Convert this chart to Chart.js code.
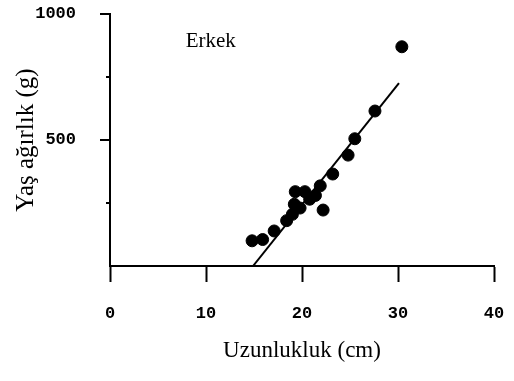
<!DOCTYPE html>
<html>
<head>
<meta charset="utf-8">
<script src="https://cdn.jsdelivr.net/npm/chart.js@4.4.1/dist/chart.umd.min.js"></script>
<style>
  html, body { margin: 0; padding: 0; background: #fff; }
  canvas { display: block; }
</style>
</head>
<body>
<canvas id="scatter" width="514" height="381"></canvas>
<script>
// Length (cm) vs wet weight (g), males
const lengthCm = [14.8, 15.9, 17.1, 18.4, 19.0, 19.3, 20.3, 19.2, 19.8, 20.8, 21.4, 21.9, 22.2, 23.2, 24.8, 25.5, 27.6, 30.4];
const weightG  = [100, 105, 139, 180, 205, 295, 295, 245, 230, 265, 280, 318, 222, 365, 440, 505, 615, 870];

// Fitted line end points
const fitX = [14.9, 30.1];
const fitY = [0, 726];

const xTicks = [0, 10, 20, 30, 40];
const yMajorTicks = [500, 1000];
const yMinorTicks = [250, 750];

const points = lengthCm.map((x, i) => ({ x, y: weightG[i] }));
const fitLine = fitX.map((x, i) => ({ x, y: fitY[i] }));

// Left-axis tick marks: long for labelled values, short in between
const yTickMarks = {
  id: 'yTickMarks',
  afterDraw(chart) {
    const { ctx, scales: { y } } = chart;
    const x0 = chart.chartArea.left;
    ctx.save();
    ctx.strokeStyle = '#000';
    ctx.lineWidth = 2;
    const mark = (v, len) => {
      const py = Math.round(y.getPixelForValue(v));
      ctx.beginPath();
      ctx.moveTo(x0 - len, py);
      ctx.lineTo(x0, py);
      ctx.stroke();
    };
    yMajorTicks.forEach(v => mark(v, 10));
    yMinorTicks.forEach(v => mark(v, 4));
    ctx.restore();
  }
};

// Group label inside the plot
const groupLabel = {
  id: 'groupLabel',
  afterDraw(chart) {
    const { ctx, scales: { x, y } } = chart;
    ctx.save();
    ctx.fillStyle = '#000';
    ctx.font = '21px "Liberation Serif", serif';
    ctx.textAlign = 'center';
    ctx.textBaseline = 'middle';
    ctx.fillText('Erkek', x.getPixelForValue(10.5), y.getPixelForValue(890));
    ctx.restore();
  }
};

const tickFont = { family: '"Liberation Mono", monospace', size: 17, weight: 'bold' };

new Chart(document.getElementById('scatter'), {
  type: 'scatter',
  data: {
    datasets: [
      {
        type: 'line',
        data: fitLine,
        borderColor: '#000',
        borderWidth: 2,
        pointRadius: 0,
        fill: false
      },
      {
        data: points,
        backgroundColor: '#000',
        borderColor: '#000',
        pointRadius: 6,
        pointHoverRadius: 6
      }
    ]
  },
  options: {
    responsive: false,
    animation: false,
    layout: { padding: 0 },
    plugins: {
      legend: { display: false },
      tooltip: { enabled: false }
    },
    scales: {
      x: {
        type: 'linear',
        min: 0,
        max: 40,
        afterBuildTicks: s => { s.ticks = xTicks.map(v => ({ value: v })); },
        afterFit: s => { s.height = 115; s.paddingLeft = 0; s.paddingRight = 20; },
        grid: { drawOnChartArea: false, drawTicks: true, tickLength: 16, tickColor: '#000', tickWidth: 2 },
        border: { color: '#000', width: 2 },
        ticks: {
          color: '#000',
          padding: 22,
          maxRotation: 0,
          font: tickFont,
          callback: v => String(v)
        },
        title: {
          display: true,
          text: 'Uzunlukluk (cm)',
          color: '#000',
          font: { family: '"Liberation Serif", serif', size: 23 },
          padding: { top: 10, bottom: 16 }
        }
      },
      y: {
        type: 'linear',
        min: 0,
        max: 1000,
        afterBuildTicks: s => { s.ticks = yMajorTicks.map(v => ({ value: v })); },
        afterFit: s => { s.width = 110; s.paddingTop = 14; s.paddingBottom = 0; },
        grid: { drawOnChartArea: false, drawTicks: false },
        border: { color: '#000', width: 2 },
        ticks: {
          color: '#000',
          padding: 34,
          font: tickFont,
          callback: v => String(v)
        },
        title: {
          display: true,
          text: 'Yaş ağırlık (g)',
          color: '#000',
          font: { family: '"Liberation Serif", serif', size: 25 },
          padding: { top: 11, bottom: 0 }
        }
      }
    }
  },
  plugins: [yTickMarks, groupLabel]
});
</script>
</body>
</html>
